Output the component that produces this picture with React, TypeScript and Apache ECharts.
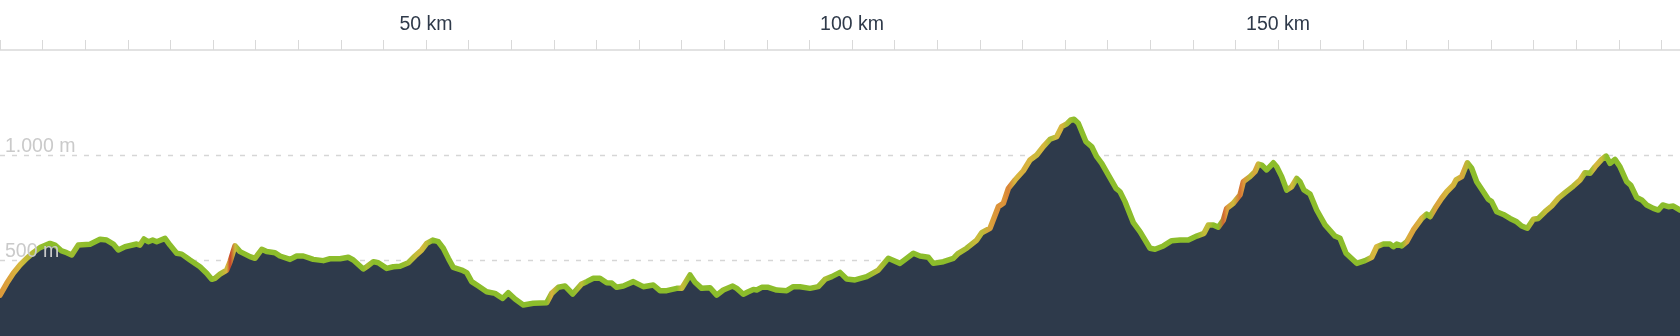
import React, { useEffect, useRef } from 'react';
import * as echarts from 'echarts';

// Distance along the route (km)
const distanceKm = [
  0, 0.79, 1.56, 2.35, 3.13, 3.91, 4.69, 5.87, 6.46, 7.24, 7.83, 8.42, 9.19, 10.56, 11.74, 12.52, 13.3, 13.89, 14.67,
  16.04, 16.43, 16.9, 17.41, 17.92, 18.39, 19.37, 19.95, 20.74, 21.33, 22.3, 23.47, 24.26, 24.85, 25.23, 25.82, 26.61,
  27.0, 27.58, 28.17, 28.76, 29.34, 29.93, 30.72, 31.3, 32.28, 32.86, 34.04, 34.82, 35.6, 36.77, 37.95, 38.73, 39.91,
  40.88, 41.47, 42.64, 43.04, 43.82, 44.4, 45.39, 46.16, 46.95, 47.92, 48.71, 49.5, 50.08, 50.79, 51.44, 52.03, 52.62,
  53.2, 54.19, 54.78, 55.36, 56.14, 57.12, 58.1, 59.0, 59.66, 60.45, 61.42, 62.59, 64.17, 64.75, 65.53, 66.31, 67.22,
  68.27, 68.86, 69.64, 70.42, 71.21, 71.8, 72.38, 73.16, 74.33, 75.5, 76.68, 77.46, 78.25, 79.42, 80.01, 80.99, 81.57,
  82.36, 83.33, 84.12, 84.89, 86.0, 86.47, 87.24, 87.83, 88.42, 88.81, 89.4, 90.18, 91.16, 92.34, 93.11, 93.9, 95.07,
  96.04, 96.83, 97.62, 98.59, 99.38, 100.35, 101.72, 103.09, 104.26, 105.63, 107.2, 107.98, 108.96, 109.54, 110.72,
  111.89, 112.48, 113.46, 114.64, 115.22, 116.2, 117.17, 117.76, 118.35, 119.13, 120.11, 120.89, 121.68, 122.45,
  123.24, 124.02, 124.61, 125.2, 125.67, 126.06, 126.56, 127.46, 128.13, 128.72, 129.31, 130.08, 130.99, 131.46,
  132.04, 133.02, 133.8, 134.98, 135.56, 136.54, 137.52, 138.5, 139.47, 140.46, 141.31, 141.82, 142.41, 142.99,
  143.58, 143.98, 144.75, 145.54, 145.93, 146.71, 147.3, 147.69, 148.09, 148.67, 149.45, 149.85, 150.43, 151.02,
  151.61, 152.19, 152.58, 153.05, 153.76, 154.54, 155.52, 156.69, 157.28, 157.98, 159.24, 160.21, 161.0, 161.58,
  162.36, 163.15, 163.53, 163.93, 164.52, 165.11, 165.88, 166.87, 167.45, 167.84, 168.43, 169.21, 169.8, 170.58,
  170.89, 171.56, 172.22, 172.73, 173.32, 174.1, 174.68, 175.08, 175.67, 176.45, 177.23, 178.02, 178.6, 179.26,
  179.97, 180.55, 181.34, 182.12, 182.9, 183.69, 184.66, 185.45, 186.03, 186.62, 187.21, 187.99, 188.5, 188.97,
  189.55, 190.14, 190.92, 191.39, 192.1, 192.69, 193.27, 194.05, 194.64, 195.15, 195.81, 196.4, 197.18,
];

// Elevation (m)
const elevationM = [
  333, 389, 437, 476, 508, 535, 559, 579, 571, 543, 535, 524, 571, 575, 599, 595, 576, 548, 563,
  576, 571, 600, 587, 595, 587, 603, 571, 532, 528, 500, 468, 437, 408, 413, 433, 452,
  492, 567, 540, 528, 516, 508, 551, 540, 535, 519, 503, 519, 519, 503, 497, 506, 506,
  513, 500, 457, 468, 492, 487, 460, 468, 470, 487, 519, 548, 579, 595, 587, 556, 508,
  465, 452, 440, 397, 376, 349, 341, 317, 344, 314, 286, 294, 297, 341, 370, 376, 338,
  386, 397, 413, 413, 392, 390, 370, 376, 397, 373, 381, 354, 354, 365, 365, 429, 394,
  365, 368, 333, 357, 376, 365, 337, 349, 360, 357, 370, 370, 357, 354, 373, 373, 365,
  373, 408, 421, 441, 410, 405, 421, 452, 508, 484, 532, 519, 513, 484, 492,
  508, 532, 556, 595, 630, 651, 754, 770, 841, 881, 925, 976, 1000, 1040,
  1075, 1087, 1135, 1148, 1167, 1170, 1151, 1063, 1040, 992, 960, 905, 841, 825,
  778, 678, 635, 556, 551, 567, 592, 595, 595, 614, 627, 667, 667, 656,
  690, 746, 770, 810, 873, 897, 921, 957, 952, 929, 963, 944, 897, 833,
  849, 889, 873, 833, 814, 738, 667, 614, 603, 532, 484, 497, 513, 563,
  576, 576, 563, 576, 567, 587, 643, 698, 719, 706, 746, 794, 825, 857,
  881, 897, 963, 937, 873, 825, 789, 778, 730, 717, 698, 682, 662, 651,
  694, 698, 730, 757, 794, 821, 852, 881, 916, 913, 944, 979, 995, 960,
  979, 944, 873, 857, 798, 786, 762, 746, 738, 762, 754, 757, 738,
];

// Axis labels / ticks
const kmLabelValues = [50, 100, 150];
const kmTickStep = 5;
const elevationLabelValues = [500, 1000];

// Grade (%) -> colour ramp
const gradeStops: [number, [number, number, number]][] = [
  [2, [140, 189, 43]],
  [4.5, [214, 186, 62]],
  [7.5, [221, 148, 58]],
  [10.5, [201, 64, 44]],
];

function gradeColor(g: number): string {
  if (g <= gradeStops[0][0]) {
    const c = gradeStops[0][1];
    return `rgb(${c[0]},${c[1]},${c[2]})`;
  }
  for (let i = 1; i < gradeStops.length; i++) {
    if (g <= gradeStops[i][0]) {
      const [g0, c0] = gradeStops[i - 1];
      const [g1, c1] = gradeStops[i];
      const t = (g - g0) / (g1 - g0);
      const c = c0.map((v, k) => Math.round(v + (c1[k] - v) * t));
      return `rgb(${c[0]},${c[1]},${c[2]})`;
    }
  }
  const c = gradeStops[gradeStops.length - 1][1];
  return `rgb(${c[0]},${c[1]},${c[2]})`;
}

function formatThousands(v: number): string {
  return String(v).replace(/\B(?=(\d{3})+(?!\d))/g, '.');
}

const FONT = "'Liberation Sans', Arial, sans-serif";

export default function App() {
  const ref = useRef<HTMLDivElement>(null);

  useEffect(() => {
    if (!ref.current) return;
    const chart = echarts.init(ref.current, null, { renderer: 'svg' });

    const n = distanceKm.length;
    const kmMax = distanceKm[n - 1];

    const stops: { offset: number; color: string }[] = [];
    for (let i = 0; i < n; i++) {
      const a = Math.max(0, i - 1);
      const b = Math.min(n - 1, i + 1);
      const grade = ((elevationM[b] - elevationM[a]) / ((distanceKm[b] - distanceKm[a]) * 1000)) * 100;
      stops.push({ offset: distanceKm[i] / kmMax, color: gradeColor(grade) });
    }

    chart.setOption({
      animation: false,
      grid: { left: 0, right: 0, top: 50, height: 315, containLabel: false, outerBoundsMode: 'none' },
      xAxis: {
        type: 'value',
        position: 'top',
        min: 0,
        max: kmMax,
        interval: kmTickStep,
        axisLine: { show: true, onZero: false, lineStyle: { color: '#e2e2e2', width: 2 } },
        axisTick: {
          show: true,
          length: 10,
          lineStyle: { color: '#d9d9d9', width: 1 },
        },
        axisLabel: {
          formatter: (v: number) => (kmLabelValues.includes(v) ? `${v} km` : ''),
          color: '#2f3a4a',
          fontSize: 19.5,
          fontFamily: FONT,
          margin: 17,
        },
        splitLine: { show: false },
      },
      yAxis: [
        {
          type: 'value',
          position: 'left',
          min: 0,
          max: 1500,
          interval: 500,
          axisLine: { show: false },
          axisTick: { show: false },
          axisLabel: { show: false },
          splitLine: {
            show: true,
            showMaxLine: false,
            lineStyle: { type: [5, 7], color: '#d6d6d6', width: 1.3 },
          },
        },
        {
          type: 'value',
          position: 'left',
          offset: 0,
          min: 0,
          max: 1500,
          interval: 500,
          z: 5,
          axisLine: { show: false, onZero: false },
          axisTick: { show: false },
          splitLine: { show: false },
          axisLabel: {
            inside: true,
            margin: 5,
            verticalAlign: 'bottom',
            color: '#cacaca',
            fontSize: 19.5,
            fontFamily: FONT,
            showMaxLabel: false,
            formatter: (v: number) => (elevationLabelValues.includes(v) ? `${formatThousands(v)} m` : ''),
          },
        },
      ],
      series: [
        {
          type: 'line',
          yAxisIndex: 0,
          data: distanceKm.map((d, i) => [d, elevationM[i]]),
          showSymbol: false,
          symbol: 'none',
          smooth: false,
          lineStyle: {
            width: 5.5,
            cap: 'round',
            join: 'round',
            color: new echarts.graphic.LinearGradient(0, 0, 1, 0, stops),
          },
          areaStyle: { color: '#2e3a4b', opacity: 1 },
          z: 2,
        },
      ],
    });

    return () => chart.dispose();
  }, []);

  return (
    <div
      ref={ref}
      style={{ position: 'fixed', left: 0, top: 0, width: 1680, height: 336 }}
    />
  );
}
